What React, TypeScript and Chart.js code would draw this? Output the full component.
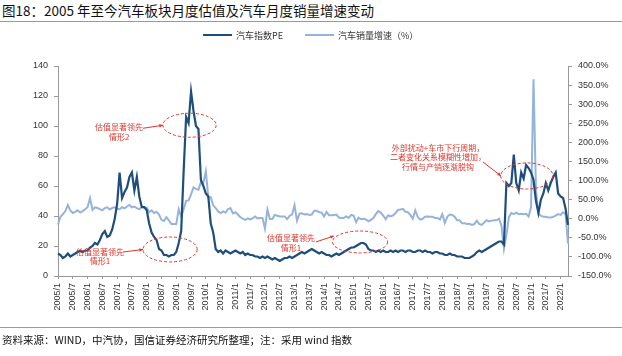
import React, { useEffect, useRef } from 'react';
import { Chart, registerables } from 'chart.js';

Chart.register(...registerables);

// ---------- data ----------
const START_YEAR = 2005;
const MONTH_COUNT = 208; // 2005/1 .. 2022/4
const MONTH_LABELS: string[] = [];
for (let i = 0; i < MONTH_COUNT; i++) {
  MONTH_LABELS.push(`${START_YEAR + Math.floor(i / 12)}/${(i % 12) + 1}`);
}

// 汽车指数PE (left axis)
const PE_VALUES: number[] = [
  15, 14, 12, 13, 15, 13, 14, 15, 16, 17, 16, 17, // 2005
  17, 19, 20, 22, 21, 24, 28, 30, 26, 27, 31, 38, // 2006
  48, 69, 52, 56, 59, 66, 69, 57, 66, 53, 46, 46, // 2007
  44, 35, 29, 26, 24, 18, 17, 14, 14, 13, 14, 14, // 2008
  16, 22, 30, 70, 106, 102, 123, 110, 100, 98, 64, 60, // 2009
  55, 53, 35, 29, 18, 16, 17, 15, 17, 16, 15, 16, // 2010
  17, 16, 15, 16, 14, 15, 14, 14, 13, 13, 12, 13, // 2011
  12, 13, 12, 11, 12, 11, 10, 11, 12, 12, 13, 12, // 2012
  13, 14, 15, 16, 15, 16, 17, 18, 17, 16, 15, 16, // 2013
  15, 14, 14, 13, 14, 15, 14, 15, 16, 17, 18, 19, // 2014
  19, 20, 21, 22, 22, 21, 18, 17, 17, 16, 17, 16, // 2015
  17, 16, 16, 17, 16, 17, 16, 17, 17, 16, 17, 17, // 2016
  16, 16, 17, 17, 16, 17, 16, 16, 15, 16, 16, 15, // 2017
  15, 14, 14, 15, 14, 14, 13, 13, 13, 12, 12, 12, // 2018
  13, 14, 16, 17, 16, 17, 18, 19, 20, 21, 22, 23, // 2019
  23, 21, 62, 60, 62, 81, 62, 57, 69, 65, 74, 72, // 2020
  69, 64, 50, 42, 51, 55, 62, 57, 62, 66, 69, 55, // 2021
  53, 52, 45, 34, // 2022
];

// 汽车销量增速（%） (right axis)
const SALES_GROWTH: number[] = [
  -15, 5, 12, 20, 36, 22, 15, 18, 22, 16, 20, 25, // 2005
  30, 54, 23, 30, 28, 25, 22, 28, 30, 24, 28, 30, // 2006
  26, 25, 30, 27, 32, 36, 30, 32, 28, 25, 30, 28, // 2007
  29, 17, 22, 15, 18, 11, -3, -6, 4, -4, -14, -14, // 2008
  -14, 25, 5, 25, 47, 48, 64, 82, 78, 76, 96, 94, // 2009
  124, 56, 56, 35, 28, 19, 15, 19, 16, 25, 28, 14, // 2010
  17, 11, 4, 0, -3, 1, -2, 1, 6, 1, 2, 2, // 2011
  -26, 24, -1, -1, 10, 8, 6, 6, 6, -1, 8, 11, // 2012
  35, -5, 13, 14, 11, 12, 10, 11, 21, 21, 17, 16, // 2013
  6, 18, 9, 9, 10, 11, 3, 2, 2, 6, 2, 10, // 2014
  8, -9, 3, -1, 0, -2, -7, -3, 2, 12, 20, 16, // 2015
  8, -1, 9, 6, 9, 15, 23, 24, 26, 18, 17, 10, // 2016
  0, 22, 5, -2, 0, 5, 6, 5, 5, 2, 2, -2, // 2017
  12, -11, 5, 11, 10, 5, -4, -4, -12, -12, -14, -13, // 2018
  -16, -14, -5, -14, -16, -10, -4, -7, -5, -4, -4, 0, // 2019
  -18, -79, -43, 4, 15, 12, 16, 12, 13, 12, 13, 6, // 2020
  30, 365, 75, 12, 8, 5, 5, 3, 3, 5, 8, 12, // 2021
  10, 17, 12, -65, // 2022
];

const LEFT_AXIS = { min: 0, max: 140, step: 20 };
const RIGHT_AXIS = { min: -150, max: 400, step: 50 };

const SERIES_NAMES = ['汽车指数PE', '汽车销量增速（%）'];
const TITLE = '图18：2005 年至今汽车板块月度估值及汽车月度销量增速变动';
const SOURCE = '资料来源：WIND，中汽协，国信证券经济研究所整理；注：采用 wind 指数';

// annotations expressed in chart units (month index, PE value)
const NOTES = [
  { cx: 53.4, cy: 100.5, rx: 10.8, ry: 8, tx: 24.8, ty: 96, lines: ['估值显著领先', '情形2'], a0: [34.5, 98.5], a1: [42.6, 100.5] },
  { cx: 45.5, cy: 17.7, rx: 11, ry: 8.3, tx: 17, ty: 13, lines: ['估值显著领先', '情形1'], a0: [26.4, 16], a1: [34.5, 17.7] },
  { cx: 122.6, cy: 22.7, rx: 11.2, ry: 7.3, tx: 94.6, ty: 22, lines: ['估值显著领先', '情形1'], a0: [104.7, 22.7], a1: [112, 26.7] },
  { cx: 190.3, cy: 66.7, rx: 10.6, ry: 8.7, tx: 154.2, ty: 79.3, lines: ['外部扰动+车市下行周期，', '二者变化关系模糊性增加，', '行情与产销逐渐脱钩'], a0: [172.5, 76], a1: [179.8, 66.7] },
];

const DARK = '#1F4E7D';
const LIGHT = '#95B3DB';
const RED = '#E0352B';
const CJK = '"Noto Sans CJK SC", "Noto Sans", sans-serif';
const TICK_FONT = '"Liberation Sans", Arial, sans-serif';

const notePlugin = {
  id: 'notes',
  afterDatasetsDraw(chart: any) {
    const { ctx } = chart;
    const xs = chart.scales.x;
    const ys = chart.scales.y;
    const px = (v: number) => xs.getPixelForValue(v);
    const py = (v: number) => ys.getPixelForValue(v);
    ctx.save();
    for (const n of NOTES) {
      const cx = px(n.cx);
      const cy = py(n.cy);
      const rx = Math.abs(px(n.cx + n.rx) - cx);
      const ry = Math.abs(py(n.cy + n.ry) - cy);
      ctx.strokeStyle = RED;
      ctx.lineWidth = 1;
      ctx.setLineDash([3, 2]);
      ctx.beginPath();
      ctx.ellipse(cx, cy, rx, ry, 0, 0, Math.PI * 2);
      ctx.stroke();
      ctx.setLineDash([]);
      // arrow
      const x0 = px(n.a0[0]);
      const y0 = py(n.a0[1]);
      const x1 = px(n.a1[0]);
      const y1 = py(n.a1[1]);
      ctx.beginPath();
      ctx.moveTo(x0, y0);
      ctx.lineTo(x1, y1);
      ctx.stroke();
      const ang = Math.atan2(y1 - y0, x1 - x0);
      ctx.fillStyle = RED;
      ctx.beginPath();
      ctx.moveTo(x1, y1);
      ctx.lineTo(x1 - 4 * Math.cos(ang - 0.45), y1 - 4 * Math.sin(ang - 0.45));
      ctx.lineTo(x1 - 4 * Math.cos(ang + 0.45), y1 - 4 * Math.sin(ang + 0.45));
      ctx.closePath();
      ctx.fill();
      // text
      ctx.font = `8px ${CJK}`;
      ctx.textAlign = 'center';
      ctx.textBaseline = 'middle';
      const tx = px(n.tx);
      const ty = py(n.ty);
      const lh = 9.5;
      const top = ty - ((n.lines.length - 1) * lh) / 2;
      n.lines.forEach((l, k) => ctx.fillText(l, tx, top + k * lh));
    }
    ctx.restore();
  },
};

export default function App() {
  const ref = useRef<HTMLCanvasElement | null>(null);

  useEffect(() => {
    if (!ref.current) return;
    const chart = new Chart(ref.current, {
      type: 'line',
      data: {
        labels: MONTH_LABELS,
        datasets: [
          {
            label: SERIES_NAMES[0],
            data: PE_VALUES,
            yAxisID: 'y',
            borderColor: DARK,
            backgroundColor: DARK,
            borderWidth: 2.2,
            pointRadius: 0,
            tension: 0,
          },
          {
            label: SERIES_NAMES[1],
            data: SALES_GROWTH,
            yAxisID: 'y1',
            borderColor: LIGHT,
            backgroundColor: LIGHT,
            borderWidth: 2,
            pointRadius: 0,
            tension: 0,
          },
        ],
      },
      options: {
        responsive: false,
        animation: false,
        layout: { padding: { top: 66, left: 0, right: 0, bottom: 0 } },
        plugins: {
          legend: { display: false },
          tooltip: { enabled: false },
        },
        scales: {
          x: {
            type: 'category',
            offset: false,
            grid: { display: true, drawOnChartArea: false, tickLength: 3, color: '#999' },
            border: { display: true, color: '#999' },
            ticks: {
              autoSkip: false,
              minRotation: 90,
              maxRotation: 90,
              padding: 4,
              color: '#333',
              font: { size: 9, family: TICK_FONT },
              callback: (_v: any, i: number) => (i % 6 === 0 ? MONTH_LABELS[i] : null),
            },
            afterFit: (s: any) => {
              s.height = 80;
            },
          },
          y: {
            position: 'left',
            min: LEFT_AXIS.min,
            max: LEFT_AXIS.max,
            grid: { drawOnChartArea: false, tickLength: 4, color: '#999' },
            border: { display: true, color: '#999' },
            ticks: {
              stepSize: LEFT_AXIS.step,
              padding: 6,
              color: '#333',
              font: { size: 9, family: TICK_FONT },
            },
            afterFit: (s: any) => {
              s.width = 58;
            },
          },
          y1: {
            position: 'right',
            min: RIGHT_AXIS.min,
            max: RIGHT_AXIS.max,
            grid: { drawOnChartArea: false, tickLength: 4, color: '#999' },
            border: { display: true, color: '#999' },
            ticks: {
              stepSize: RIGHT_AXIS.step,
              padding: 6,
              color: '#333',
              font: { size: 9, family: TICK_FONT },
              callback: (v: any) => `${Number(v).toFixed(1)}%`,
            },
            afterFit: (s: any) => {
              s.width = 54;
            },
          },
        },
      },
      plugins: [notePlugin],
    } as any);
    return () => chart.destroy();
  }, []);

  return (
    <div style={{ position: 'fixed', left: 0, top: 0, width: 622, height: 356, background: '#fff', overflow: 'hidden' }}>
      <div style={{ position: 'absolute', left: 2, top: 1, fontFamily: CJK, fontSize: 13.5, lineHeight: '18px', color: '#111', whiteSpace: 'nowrap' }}>
        {TITLE}
      </div>
      <div style={{ position: 'absolute', left: 0, top: 21, width: 622, height: 1, background: '#9a9a9a' }} />
      <canvas ref={ref} width={622} height={356} style={{ position: 'absolute', left: 0, top: 0, width: 622, height: 356 }} />
      <div style={{ position: 'absolute', left: 203, top: 28, height: 14, display: 'flex', alignItems: 'center', fontFamily: CJK, fontSize: 9, color: '#333', whiteSpace: 'nowrap' }}>
        <span style={{ display: 'inline-block', width: 29, height: 2, background: DARK, marginRight: 4 }} />
        <span>{SERIES_NAMES[0]}</span>
        <span style={{ display: 'inline-block', width: 29, height: 2, background: LIGHT, marginLeft: 22, marginRight: 4 }} />
        <span>{SERIES_NAMES[1]}</span>
      </div>
      <div style={{ position: 'absolute', left: 0, top: 327, width: 622, height: 1, background: '#9a9a9a' }} />
      <div style={{ position: 'absolute', left: 2, top: 332, fontFamily: CJK, fontSize: 10.5, lineHeight: '16px', color: '#111', whiteSpace: 'nowrap' }}>
        {SOURCE}
      </div>
    </div>
  );
}
